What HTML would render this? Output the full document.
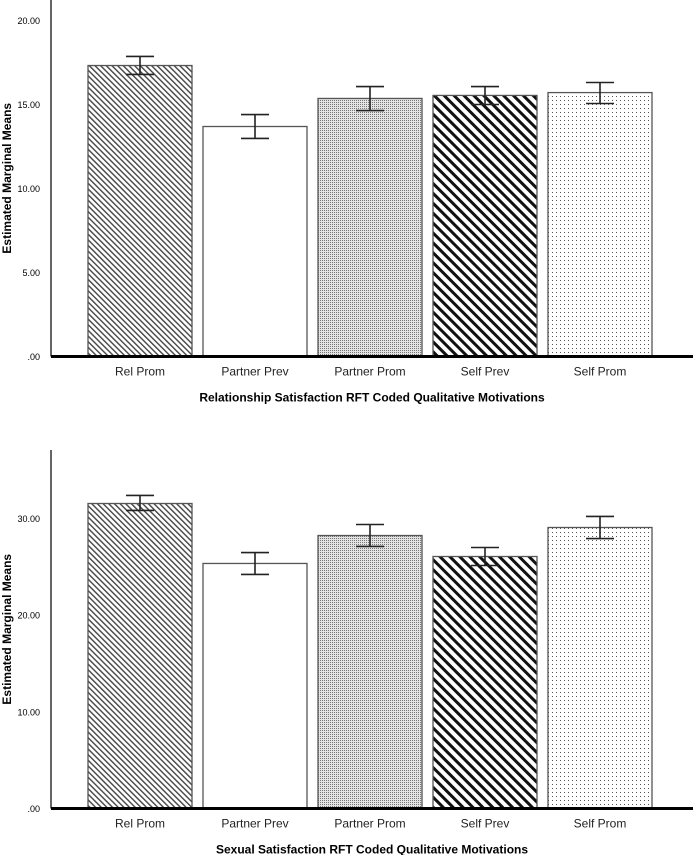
<!DOCTYPE html>
<html><head><meta charset="utf-8"><style>
html,body{margin:0;padding:0;background:#fff;}
svg{display:block;font-family:"Liberation Sans",Arial,sans-serif;}
</style></head><body>
<svg id="c" width="693" height="855" viewBox="0 0 693 855">
<defs>
<pattern id="pRel" width="4" height="4" patternUnits="userSpaceOnUse" patternTransform="rotate(-45)"><rect width="4" height="4" fill="#fff"/><rect x="0" y="0" width="1.4" height="4" fill="#444"/></pattern>
<pattern id="pPProm" width="2" height="2" patternUnits="userSpaceOnUse"><rect width="2" height="2" fill="#e4e4e4"/><rect width="1" height="1" fill="#777"/></pattern>
<pattern id="pSPrev" width="7" height="7" patternUnits="userSpaceOnUse" patternTransform="rotate(-45)"><rect width="7" height="7" fill="#fff"/><rect x="0" y="0" width="3" height="7" fill="#111"/></pattern>
<pattern id="pSProm" width="4" height="4" patternUnits="userSpaceOnUse"><rect width="4" height="4" fill="#fff"/><rect width="1" height="1" fill="#555"/></pattern>
</defs>
</svg>
<script>
const categories = ["Rel Prom","Partner Prev","Partner Prom","Self Prev","Self Prom"];
const fills = ["url(#pRel)","#fff","url(#pPProm)","url(#pSPrev)","url(#pSProm)"];
const relMeans = [17.32,13.69,15.36,15.54,15.71];
const relLow = [16.79,12.98,14.64,15.0,15.06];
const relHigh = [17.86,14.4,16.07,16.07,16.31];
const relTicks = [0,5,10,15,20];
const relTickLabels = [".00","5.00","10.00","15.00","20.00"];
const sexMeans = [31.54,25.34,28.23,26.06,29.06];
const sexLow = [30.82,24.2,27.1,25.13,27.92];
const sexHigh = [32.37,26.47,29.37,26.99,30.2];
const sexTicks = [0,10,20,30];
const sexTickLabels = [".00","10.00","20.00","30.00"];

const svg = document.getElementById('c');
const NS = 'http://www.w3.org/2000/svg';
function mk(tag, attrs, parent){const e=document.createElementNS(NS,tag);for(const k in attrs)e.setAttribute(k,attrs[k]);(parent||svg).appendChild(e);return e;}

function chart(key, base, top, yMax, pxPerUnit, means, lows, highs, ticks, tickLabels, title){
  const g = mk('g',{});
  
  
  const y = v => base - v*pxPerUnit;
  const x0 = 88, step = 115, bw = 104;
  const xPos = i => x0 + i*step;
  const ya = mk('line',{x1:51,y1:top,x2:51,y2:base,stroke:'#000','stroke-width':1.2},g);
  
  
  ticks.forEach((t,i)=>{
    const tl = mk('text',{x:40,y:y(t)+3.5,'text-anchor':'end','font-size':9,fill:'#000'},g);
    tl.textContent = tickLabels[i];
    
    
  });
  means.forEach((m,i)=>{
    const b = mk('rect',{x:xPos(i),y:y(m),width:bw,height:base-y(m),fill:fills[i],stroke:'#555','stroke-width':1.3},g);
    
    
    const cx = xPos(i)+bw/2;
    const e = mk('g',{stroke:'#222','stroke-width':1.6},g);
    
    
    mk('line',{x1:cx,y1:y(highs[i]),x2:cx,y2:y(lows[i])},e);
    mk('line',{x1:cx-14,y1:y(highs[i]),x2:cx+14,y2:y(highs[i])},e);
    mk('line',{x1:cx-14,y1:y(lows[i]),x2:cx+14,y2:y(lows[i])},e);
    const cl = mk('text',{x:cx,y:base+19,'text-anchor':'middle','font-size':12,fill:'#222'},g);
    cl.textContent = categories[i];
    
    
  });
  const xa = mk('line',{x1:51,y1:base,x2:693,y2:base,stroke:'#000','stroke-width':3},g);
  
  
  const xt = mk('text',{x:372,y:base+45,'text-anchor':'middle','font-size':12,'font-weight':'bold',fill:'#000'},g);
  xt.textContent = title;
  
  
  const cy = (top+base)/2;
  const yt = mk('text',{x:0,y:0,'text-anchor':'middle','font-size':12,'font-weight':'bold',fill:'#000',transform:`translate(11,${cy}) rotate(-90)`},g);
  yt.textContent = 'Estimated Marginal Means';
  
  
}
chart('relationship', 356.5, 0, 21.2, 16.8, relMeans, relLow, relHigh, relTicks, relTickLabels, 'Relationship Satisfaction RFT Coded Qualitative Motivations');
chart('sexual', 808.5, 450, 37, 9.67, sexMeans, sexLow, sexHigh, sexTicks, sexTickLabels, 'Sexual Satisfaction RFT Coded Qualitative Motivations');
</script>
</body></html>
